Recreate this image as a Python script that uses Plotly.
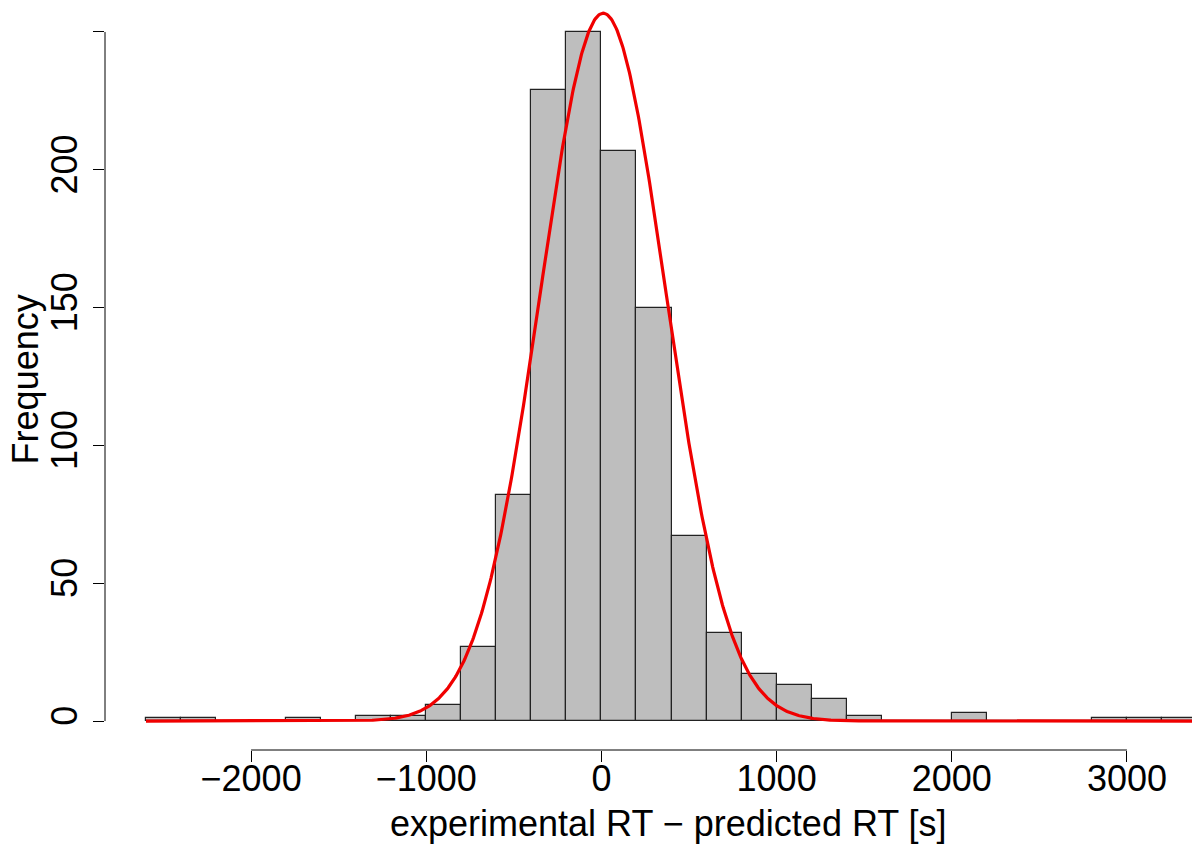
import numpy as np
import plotly.graph_objects as go

# Histogram bins (left edges, width 200) and counts
bin_left = [-2600, -2400, -2200, -2000, -1800, -1600, -1400, -1200, -1000, -800,
            -600, -400, -200, 0, 200, 400, 600, 800, 1000, 1200,
            1400, 1600, 1800, 2000, 2200, 2400, 2600, 2800, 3000, 3200]
counts = [1, 1, 0, 0, 1, 0, 2, 2, 6, 27,
          82, 229, 250, 207, 150, 67, 32, 17, 13, 8,
          2, 0, 0, 3, 0, 0, 0, 1, 1, 1]
bin_width = 200

# Fitted normal curve parameters
fit_mean = 10
fit_sd = 358
fit_peak = 256.8

x_ticks = [-2000, -1000, 0, 1000, 2000, 3000]
x_tick_labels = ["\u22122000", "\u22121000", "0", "1000", "2000", "3000"]
y_ticks = [0, 50, 100, 150, 200, 250]
y_tick_labels = ["0", "50", "100", "150", "200", "250"]

x_title = "experimental RT \u2212 predicted RT [s]"
y_title = "Frequency"

FONT = "Liberation Sans, Arial, Helvetica, sans-serif"

centers = [b + bin_width / 2 for b in bin_left]
xc = np.linspace(bin_left[0], bin_left[-1] + bin_width, 1201)
yc = fit_peak * np.exp(-((xc - fit_mean) ** 2) / (2 * fit_sd ** 2))

fig = go.Figure()
fig.add_trace(go.Bar(
    x=centers, y=counts, width=bin_width,
    marker=dict(color="#BEBEBE", line=dict(color="#222222", width=1.2)),
    hoverinfo="skip", showlegend=False,
))
fig.add_trace(go.Scatter(
    x=xc, y=yc, mode="lines",
    line=dict(color="#F00000", width=3.2),
    hoverinfo="skip", showlegend=False,
))

fig.update_layout(
    width=1192, height=837,
    margin=dict(l=97, r=0, t=0, b=95, autoexpand=False),
    paper_bgcolor="white", plot_bgcolor="white",
    bargap=0,
    font=dict(family=FONT, size=36, color="black"),
    xaxis=dict(
        range=[-2834, 3417], showgrid=False, zeroline=False, showline=False,
        automargin=False,
        tickmode="array", tickvals=x_ticks, ticktext=x_tick_labels,
        ticks="outside", ticklen=11, tickwidth=1, tickcolor="black",
        tickfont=dict(family=FONT, size=36, color="black"),
        ticklabelstandoff=-14,
    ),
    yaxis=dict(
        range=[-10.5, 258.7], showgrid=False, zeroline=False, showline=False,
        automargin=False,
        tickmode="array", tickvals=y_ticks, ticktext=y_tick_labels,
        ticks="outside", ticklen=11, tickwidth=1, tickcolor="black",
        tickangle=-90,
        tickfont=dict(family=FONT, size=36, color="black"),
        ticklabelstandoff=2,
    ),
    shapes=[
        dict(type="line", xref="x", yref="paper", x0=x_ticks[0], x1=x_ticks[-1], y0=0, y1=0,
             line=dict(color="black", width=1)),
        dict(type="line", xref="paper", yref="y", x0=0, x1=0, y0=y_ticks[0], y1=y_ticks[-1],
             line=dict(color="black", width=1)),
    ],
    annotations=[
        dict(text=x_title, xref="paper", yref="paper", x=0.515, y=-0.0984,
             xanchor="center", yanchor="middle", showarrow=False, borderpad=0,
             font=dict(family=FONT, size=36, color="black")),
        dict(text=y_title, xref="paper", yref="paper", x=-0.0727, y=0.5,
             xanchor="center", yanchor="middle", textangle=-90, showarrow=False, borderpad=0,
             font=dict(family=FONT, size=36, color="black")),
    ],
)

fig.write_html("out.html")
